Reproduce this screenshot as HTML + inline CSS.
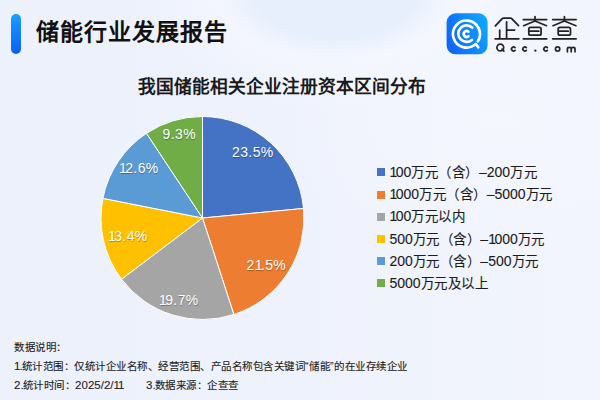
<!DOCTYPE html>
<html lang="zh-CN"><head><meta charset="utf-8">
<style>
html,body{margin:0;padding:0;}
body{width:600px;height:400px;overflow:hidden;position:relative;font-family:"Liberation Sans",sans-serif;
background:
radial-gradient(ellipse 118px 68px at 335px -8px, rgb(231,239,252) 0%, rgb(231,239,252) 68%, rgba(231,239,252,0) 100%),
radial-gradient(ellipse 190px 120px at 335px -8px, rgba(246,248,255,0.95) 45%, rgba(246,248,255,0) 100%),
radial-gradient(ellipse 220px 150px at 500px 120px, rgba(245,247,255,0.9), rgba(245,247,255,0)),
linear-gradient(90deg,rgb(236,241,252) 0%,rgb(238,242,252) 45%,rgb(242,245,253) 100%);}
.abs{position:absolute;white-space:nowrap;}
.bar{left:11px;top:14px;width:10px;height:40px;border-radius:5px;background:linear-gradient(180deg,#1aa0ff,#0a5df5);}
.title{left:35.5px;top:15px;font-size:23px;letter-spacing:1px;font-weight:bold;color:#111;line-height:34px;}
.ctitle{left:137.5px;top:74px;font-size:17.7px;font-weight:bold;color:#1a1a1a;line-height:26px;}
.leg{left:389.5px;font-size:13.5px;color:#1c1c1c;-webkit-text-stroke:0.12px #1c1c1c;line-height:18px;letter-spacing:0.5px;}
.sq{left:377px;width:8px;height:8px;}
u{text-decoration:none;letter-spacing:-1.5px;}
.lbl u{letter-spacing:-1.6px;}
.n{font-size:14px;font-weight:normal;letter-spacing:0;}
.foot{left:14px;font-size:10.5px;color:#222;-webkit-text-stroke:0.1px #222;line-height:14px;letter-spacing:0.5px;}
.foot .n{font-size:11.5px;}
.foot u{letter-spacing:-1px;}
b{font-weight:normal;}
.foot b{letter-spacing:-1px;}
.lbl{font-size:14px;letter-spacing:0.4px;color:#fff;text-shadow:0.4px 0.6px 0.8px rgba(0,0,0,0.3);}
</style></head><body>
<div class="abs bar"></div>
<div class="abs title">储能行业发展报告</div>

<svg class="abs" style="left:446px;top:13px" width="42" height="42" viewBox="0 0 42 42">
<defs><linearGradient id="lg" x1="0" y1="0.7" x2="1" y2="0.3"><stop offset="0" stop-color="#0f64fc"/><stop offset="1" stop-color="#0ea6ff"/></linearGradient></defs>
<rect x="0.6" y="0.3" width="41" height="41" rx="9" fill="url(#lg)"/>
<g fill="none" stroke="#fff" stroke-linecap="round" stroke-linejoin="round">
<path stroke-width="2.7" d="M31.82 28.35 A13.5 13.5 0 1 0 29.71 30.87 L32.2 34.3"/>
<path stroke-width="2.7" d="M26.26 14.53 A8.3 8.3 0 1 0 25.94 26.96"/>
<path stroke-width="2.6" d="M22.46 18.78 A2.9 2.9 0 1 0 22.46 23.22"/>
</g>
</svg>

<svg class="abs" style="left:0;top:0" width="600" height="60" viewBox="0 0 600 60">
<g fill="none" stroke="#222" stroke-width="1.75" stroke-linecap="round" stroke-linejoin="round">
<path d="M495.4 25.9 L502.2 18.6 Q502.7 18.1 503.4 18.1 L510.5 18.1 Q511.2 18.1 511.7 18.6 L518.5 25.6"/>
<path d="M506.6 21.9 L506.6 38.8 M506.6 30.1 L514.6 30.1 M499.7 30.1 L499.7 38.8 M495.1 38.8 L518.8 38.8"/>
<g id="cha">
<path d="M523.3 19.5 L546.7 19.5 M535 16.6 L535 21 M523.6 25.7 L535 21 L546.5 25.7"/>
<path d="M530.6 27.4 L539.3 27.4 Q541.1 27.4 541.1 29.2 L541.1 33.4 Q541.1 35.2 539.3 35.2 L530.6 35.2 Q528.8 35.2 528.8 33.4 L528.8 29.2 Q528.8 27.4 530.6 27.4 Z M528.8 31.2 L538.8 31.2"/>
<path d="M523.3 38.8 L546.7 38.8"/>
</g>
<use href="#cha" x="29.4"/>
</g>
<g fill="none" stroke="#262626" stroke-width="1.7" stroke-linecap="round">
<circle cx="500.3" cy="47.5" r="3.4"/>
<path d="M502 49.2 L503.9 51.1"/>
<path d="M515.05 47.55 A2.05 2.05 0 1 0 515.05 50.45"/>
<path d="M526.35 47.55 A2.05 2.05 0 1 0 526.35 50.45"/>
<path d="M547.35 47.55 A2.05 2.05 0 1 0 547.35 50.45"/>
<circle cx="557.6" cy="49" r="2.15"/>
<path d="M567.4 51.8 V48.9 Q567.4 47.4 569.3 47.4 Q571.2 47.4 571.2 48.9 V51.8 M571.2 48.9 Q571.2 47.4 573.1 47.4 Q575 47.4 575 48.9 V51.8"/>
</g>
<circle cx="535.4" cy="50.7" r="1.15" fill="#262626"/>
</svg>

<div class="abs ctitle">我国储能相关企业注册资本区间分布</div>

<svg class="abs" style="left:0;top:0" width="600" height="400" viewBox="0 0 600 400">
<g stroke="#fff" stroke-width="1" stroke-linejoin="round">
<path fill="#4472c4" d="M202.5 218.0 L202.50 116.50 A101.5 101.5 0 0 1 303.55 208.45 Z"/>
<path fill="#ed7d31" d="M202.5 218.0 L303.55 208.45 A101.5 101.5 0 0 1 233.87 314.53 Z"/>
<path fill="#a5a5a5" d="M202.5 218.0 L233.87 314.53 A101.5 101.5 0 0 1 121.52 279.20 Z"/>
<path fill="#ffc000" d="M202.5 218.0 L121.52 279.20 A101.5 101.5 0 0 1 102.92 198.35 Z"/>
<path fill="#5b9bd5" d="M202.5 218.0 L102.92 198.35 A101.5 101.5 0 0 1 146.51 133.34 Z"/>
<path fill="#70ad47" d="M202.5 218.0 L146.51 133.34 A101.5 101.5 0 0 1 202.50 116.50 Z"/>
</g>
</svg>

<div class="abs lbl" style="left:232px;top:144px">23.5%</div>
<div class="abs lbl" style="left:246.5px;top:257px">2<u>1</u>.5%</div>
<div class="abs lbl" style="left:159px;top:292px"><u>1</u>9.7%</div>
<div class="abs lbl" style="left:108px;top:228px"><u>1</u>3.4%</div>
<div class="abs lbl" style="left:119px;top:160px"><u>1</u>2.6%</div>
<div class="abs lbl" style="left:162.5px;top:126px">9.3%</div>

<div class="abs sq" style="top:168.3px;background:#4472c4"></div>
<div class="abs leg" style="top:163.0px"><span class="n"><u>1</u>00</span>万元（含）<span class="n">–200</span>万元</div>
<div class="abs sq" style="top:190.5px;background:#ed7d31"></div>
<div class="abs leg" style="top:185.2px"><span class="n"><u>1</u>000</span>万元（含）<span class="n">–5000</span>万元</div>
<div class="abs sq" style="top:212.7px;background:#a5a5a5"></div>
<div class="abs leg" style="top:207.4px"><span class="n"><u>1</u>00</span>万元以内</div>
<div class="abs sq" style="top:234.9px;background:#ffc000"></div>
<div class="abs leg" style="top:229.6px"><span class="n">500</span>万元（含）<span class="n">–<u>1</u>000</span>万元</div>
<div class="abs sq" style="top:257.1px;background:#5b9bd5"></div>
<div class="abs leg" style="top:251.8px"><span class="n">200</span>万元（含）<span class="n">–500</span>万元</div>
<div class="abs sq" style="top:279.3px;background:#70ad47"></div>
<div class="abs leg" style="top:274.0px"><span class="n">5000</span>万元及以上</div>

<div class="abs foot" style="top:340px">数据说明：</div>
<div class="abs foot" style="top:359px"><span class="n"><u>1</u><b>.</b></span>统计范围：仅统计企业名称、经营范围、产品名称包含关键词“储能”的在业存续企业</div>
<div class="abs foot" style="top:378px"><span class="n">2<b>.</b></span>统计时间：<span class="n">2025/2/<u>1</u><u>1</u></span></div>
<div class="abs foot" style="top:378px;left:146px"><span class="n">3<b>.</b></span>数据来源：企查查</div>
</body></html>
